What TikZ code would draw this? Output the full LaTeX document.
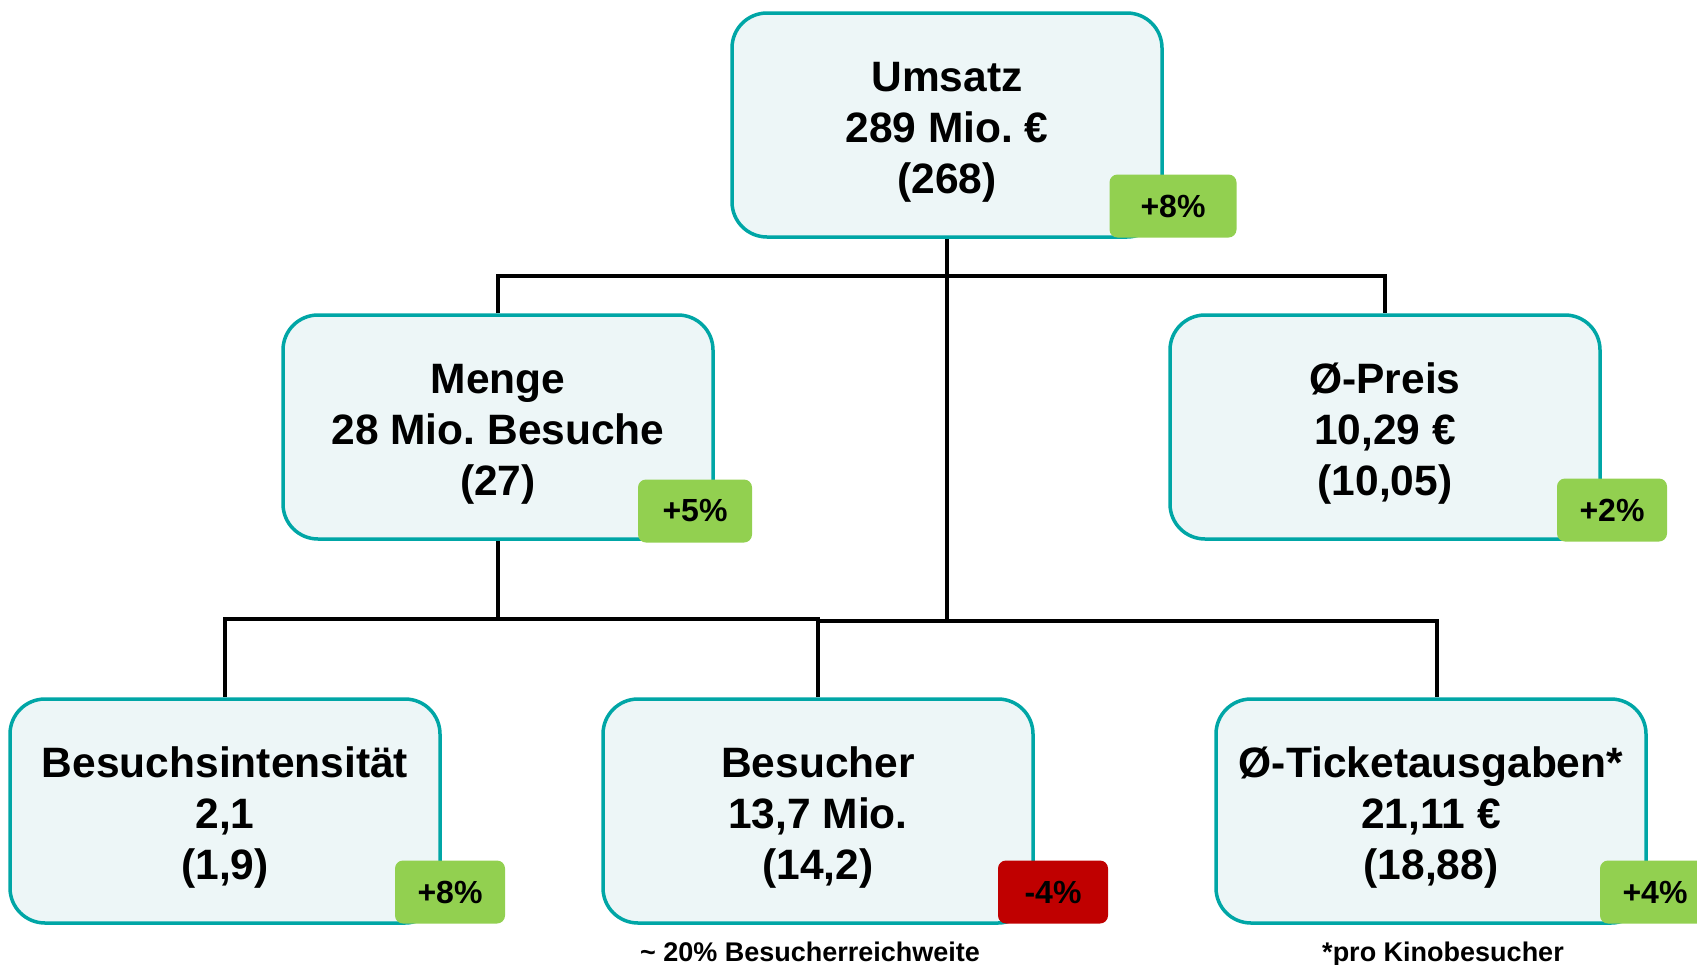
\documentclass[tikz,border=0pt]{standalone}
\usepackage{fontspec}
\setmainfont{Liberation Sans}
\frenchspacing
\definecolor{kpiteal}{RGB}{0,166,166}
\definecolor{kpifill}{RGB}{237,246,247}
\definecolor{up}{RGB}{146,208,80}
\definecolor{down}{RGB}{192,0,0}
\begin{document}
\begin{tikzpicture}[x=1pt, y=-1pt,
    kpi/.style={draw=kpiteal, line width=3.5pt, fill=kpifill, rounded corners=35pt,
      minimum width=430pt, minimum height=224pt, align=center, inner sep=0pt,
      text height=145pt, text depth=9pt, font=\fontsize{42.5}{51}\selectfont\bfseries},
    badge/.style={fill=up, rounded corners=8pt, minimum width=110pt, minimum height=63pt,
      inner sep=0pt, font=\fontsize{32}{38}\selectfont\bfseries},
    note/.style={anchor=base, inner sep=0pt, font=\fontsize{27}{32}\selectfont\bfseries},
    link/.style={line width=3.3pt}]
  \useasboundingbox (0,0) rectangle (1697,964);
  % boxes
  \node[kpi] (umsatz) at (947,125) {Umsatz\\289 Mio. €\\(268)};
  \node[kpi] (menge) at (498,427) {Menge\\28 Mio. Besuche\\(27)};
  \node[kpi] (preis) at (1385,427) {Ø-Preis\\10,29 €\\(10,05)};
  \node[kpi] (intens) at (225,811) {Besuchsintensität\\2,1\\(1,9)};
  \node[kpi] (besucher) at (818,811) {Besucher\\13,7 Mio.\\(14,2)};
  \node[kpi] (ticket) at (1431,811) {Ø-Ticketausgaben*\\21,11 €\\(18,88)};
  % connectors
  \coordinate (topbar) at (947,276);
  \coordinate (split) at (947,621);
  \coordinate (lowbar) at (498,619);
  \draw[link] (umsatz.south) -- (split);
  \draw[link] (menge.north) |- (topbar) -| (preis.north);
  \draw[link] (menge.south) -- (lowbar) -| (intens.north);
  \draw[link] (lowbar) -| (besucher.north);
  \draw[link] (besucher.north) |- (split) -| ([xshift=6pt]ticket.north);
  % changes
  \node[badge, minimum width=127pt] (dumsatz) at (1173,206) {+8\%};
  \node[badge, minimum width=114pt] (dmenge) at (695,511) {+5\%};
  \node[badge] (dpreis) at (1612,510) {+2\%};
  \node[badge] (dintens) at (450,892) {+8\%};
  \node[badge, fill=down] (dbesucher) at (1053,892) {-4\%};
  \node[badge] (dticket) at (1655,892) {+4\%};
  \node[note] (reach) at (810,961) {\textasciitilde{} 20\% Besucherreichweite};
  \node[note] (perhead) at (1443,961) {*pro Kinobesucher};
\end{tikzpicture}
\end{document}
